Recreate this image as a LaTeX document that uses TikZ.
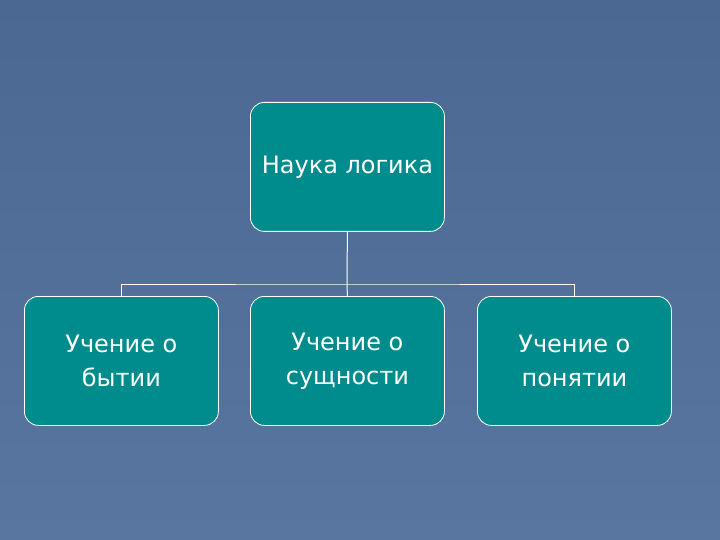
\documentclass[tikz,border=0pt]{standalone}
\usepackage{fontspec}
\setmainfont{DejaVu Sans}
\begin{document}
\begin{tikzpicture}[x=1pt,y=-1pt,
  box/.style={draw=white,line width=0.8pt,fill={rgb,255:red,0;green,140;blue,140},rounded corners=14pt,minimum width=194pt,minimum height=129pt,text=white,font=\fontsize{24}{34}\selectfont,align=center,anchor=north west,inner sep=0pt},
  conn/.style={draw=white,line width=1pt}]
\shade[top color={rgb,255:red,74;green,104;blue,146},bottom color={rgb,255:red,88;green,118;blue,160}] (0,0) rectangle (720,540);
\useasboundingbox (0,0) rectangle (720,540);
\node[box] (top) at (250,102) {Наука логика};
\node[box] (b1) at (24,296) {Учение о\\бытии};
\node[box] (b2) at (250,296) {Учение о\\сущности};
\node[box] (b3) at (477,296) {Учение о\\понятии};
\coordinate (j) at (347,284);
\draw[conn] (top.south) -- (j);
\draw[conn] (b1.north) |- (j) -| (b3.north);
\draw[conn] (j) -- (b2.north);
\end{tikzpicture}
\end{document}
